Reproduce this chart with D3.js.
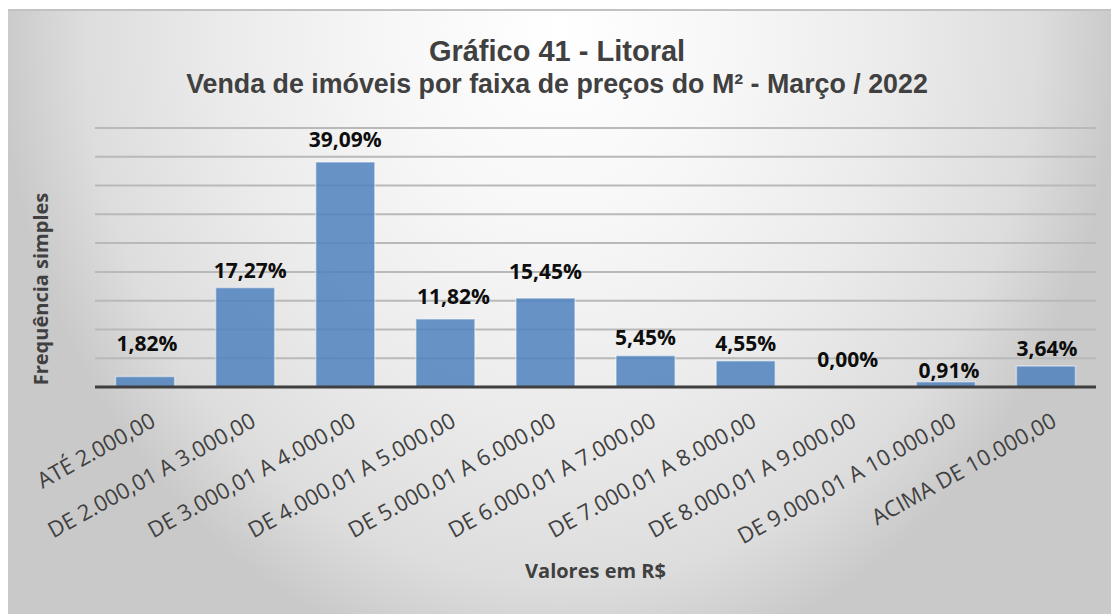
<!DOCTYPE html>
<html>
<head>
<meta charset="utf-8">
<script src="https://cdn.jsdelivr.net/npm/d3@7"></script>
<style>
  html, body { margin: 0; padding: 0; background: #ffffff; }
  svg { display: block; }
</style>
</head>
<body>
<svg id="chart" width="1111" height="614"></svg>
<script>
// Price bands (R$ per m²) and share of sales in each band, in percent
const categories = [
  "ATÉ 2.000,00",
  "DE 2.000,01 A 3.000,00",
  "DE 3.000,01 A 4.000,00",
  "DE 4.000,01 A 5.000,00",
  "DE 5.000,01 A 6.000,00",
  "DE 6.000,01 A 7.000,00",
  "DE 7.000,01 A 8.000,00",
  "DE 8.000,01 A 9.000,00",
  "DE 9.000,01 A 10.000,00",
  "ACIMA DE 10.000,00"
];
const shares = [1.82, 17.27, 39.09, 11.82, 15.45, 5.45, 4.55, 0.00, 0.91, 3.64];
const yTicks = [0, 5, 10, 15, 20, 25, 30, 35, 40, 45];

const titleText = "Gráfico 41 - Litoral";
const subtitleText = "Venda de imóveis por faixa de preços do M² - Março / 2022";
const yTitle = "Frequência simples";
const xTitle = "Valores em R$";

// Hand-placed label offsets (dx, extra lift in px) as laid out in the sheet
const labelNudge = [[2, 16], [5, 0], [0, 5], [8, 5], [0, 9], [0, 1], [0, 0], [2, 10], [3, -6], [1, 0]];

const fmt = v => v.toFixed(2).replace(".", ",") + "%";

const svg = d3.select("#chart");
const defs = svg.append("defs");

// Soft grey radial wash behind the chart
const grad = defs.append("radialGradient")
  .attr("id", "bg")
  .attr("gradientUnits", "userSpaceOnUse")
  .attr("cx", 560).attr("cy", 30).attr("r", 560)
  .attr("gradientTransform", "translate(560,30) scale(1,1.16) translate(-560,-30)");
[[0, "#ffffff"], [0.3, "#f7f7f7"], [0.6, "#ebebeb"], [0.85, "#dddddd"], [1, "#c9c9c9"]]
  .forEach(([o, c]) => grad.append("stop").attr("offset", o).attr("stop-color", c));

svg.append("rect")
  .attr("x", 8).attr("y", 9).attr("width", 1111 - 8).attr("height", 614 - 9)
  .attr("fill", "url(#bg)");
svg.append("line")
  .attr("x1", 8).attr("x2", 1111).attr("y1", 10).attr("y2", 10)
  .attr("stroke", "#c2c2c2").attr("stroke-width", 2);

// Scales
const x = d3.scaleBand()
  .domain(categories)
  .range([95, 1096])
  .paddingInner(0.41)
  .paddingOuter(0.205);

const y = d3.scaleLinear()
  .domain([0, 45])
  .range([387, 128]);

// Horizontal gridlines
svg.append("g")
  .selectAll("line")
  .data(yTicks.filter(t => t > 0))
  .join("line")
  .attr("x1", 95).attr("x2", 1096)
  .attr("y1", d => y(d)).attr("y2", d => y(d))
  .attr("stroke", "#b9b9b9")
  .attr("stroke-width", 2);

// Bars
svg.append("g")
  .selectAll("rect")
  .data(shares)
  .join("rect")
  .attr("x", (d, i) => x(categories[i]))
  .attr("y", d => y(d))
  .attr("width", x.bandwidth())
  .attr("height", d => y(0) - y(d))
  .attr("fill", "#4f81bd")
  .attr("fill-opacity", 0.85)
  .attr("stroke", "rgba(255,255,255,0.45)")
  .attr("stroke-width", 1.5);

// Category axis line
const xAxis = d3.axisBottom(x).tickSize(0).tickFormat("");
const xg = svg.append("g")
  .attr("transform", `translate(0,${y(0)})`)
  .call(xAxis);
xg.select(".domain")
  .attr("stroke", "#3f3f3f")
  .attr("stroke-width", 3)
  .attr("d", "M95,0H1096");

// Rotated category labels
svg.append("g")
  .selectAll("text")
  .data(categories)
  .join("text")
  .attr("transform", d => `translate(${x(d) + x.bandwidth() / 2 + 4},${y(0) + 24}) rotate(-29)`)
  .attr("text-anchor", "end")
  .attr("dy", "0.75em")
  .attr("font-family", "'Open Sans', sans-serif")
  .attr("font-size", 22)
  .attr("fill", "#404040")
  .text(d => d);

// Value labels
svg.append("g")
  .selectAll("text")
  .data(shares)
  .join("text")
  .attr("x", (d, i) => x(categories[i]) + x.bandwidth() / 2 + labelNudge[i][0])
  .attr("y", (d, i) => y(d) - 10 - labelNudge[i][1])
  .attr("text-anchor", "middle")
  .attr("font-family", "'Open Sans', sans-serif")
  .attr("font-weight", 700)
  .attr("font-size", 21)
  .attr("fill", "#0d0d0d")
  .text(d => fmt(d));

// Titles
svg.append("text")
  .attr("x", 557).attr("y", 61)
  .attr("text-anchor", "middle")
  .attr("font-family", "'Liberation Sans', Arial, sans-serif")
  .attr("font-weight", 700)
  .attr("font-size", 29)
  .attr("fill", "#404040")
  .text(titleText);

svg.append("text")
  .attr("x", 557).attr("y", 93)
  .attr("text-anchor", "middle")
  .attr("font-family", "'Liberation Sans', Arial, sans-serif")
  .attr("font-weight", 700)
  .attr("font-size", 26.8)
  .attr("fill", "#404040")
  .text(subtitleText);

// Axis titles
svg.append("text")
  .attr("transform", "translate(48,289) rotate(-90)")
  .attr("text-anchor", "middle")
  .attr("font-family", "'Open Sans', sans-serif")
  .attr("font-weight", 700)
  .attr("font-size", 20)
  .attr("fill", "#404040")
  .text(yTitle);

svg.append("text")
  .attr("x", 595.5).attr("y", 578)
  .attr("text-anchor", "middle")
  .attr("font-family", "'Open Sans', sans-serif")
  .attr("font-weight", 700)
  .attr("font-size", 20)
  .attr("fill", "#404040")
  .text(xTitle);
</script>
</body>
</html>
